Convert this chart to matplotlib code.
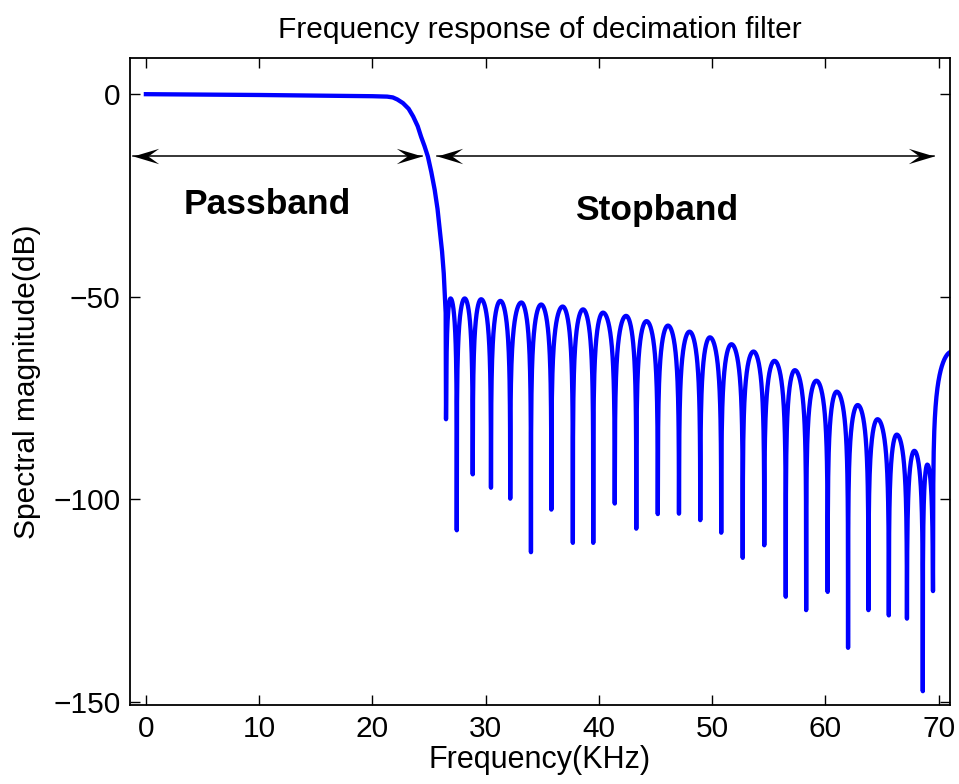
import numpy as np
import matplotlib
matplotlib.use("Agg")
import matplotlib.pyplot as plt
from matplotlib.path import Path

plt.rcParams['font.family'] = ['Liberation Sans', 'DejaVu Sans']

# passband + transition (KHz, dB)
pass_f = [0, 5, 10, 15, 20, 21.3, 21.8, 22.2, 22.7, 23.2, 23.6, 24.0, 24.3, 24.6,
          24.9, 25.2, 25.5, 25.75, 25.95, 26.15, 26.3, 26.47]
pass_db = [0, -0.1, -0.2, -0.35, -0.5, -0.6, -0.8, -1.3, -2.2, -3.6, -5.5, -7.9,
           -10.5, -12.8, -15.4, -19.2, -23.6, -28.3, -33.5, -38.8, -44.2, -54]

# stopband nulls
null_f = [26.5, 27.45, 28.86, 30.47, 32.17, 34.0, 35.8, 37.7, 39.5, 41.4, 43.3,
          45.2, 47.07, 48.95, 50.8, 52.7, 54.6, 56.5, 58.3, 60.2, 62.0, 63.8,
          65.6, 67.2, 68.6, 69.5]
null_db = [-80.2, -107.6, -93.8, -97.1, -99.8, -113.0, -102.5, -110.7, -110.7,
           -101.0, -107.2, -103.6, -103.5, -105.1, -108.2, -114.4, -111.3, -124.0,
           -127.3, -122.8, -136.6, -127.3, -128.6, -129.4, -147.3, -122.6]

# sidelobe peaks between nulls
peak_f = [26.9, 28.15, 29.6, 31.3, 33.15, 34.9, 36.8, 38.6, 40.36, 42.4, 44.2,
          46.1, 48.0, 49.8, 51.7, 53.65, 55.5, 57.3, 59.2, 61.0, 62.85, 64.6,
          66.3, 67.85, 69.0]
peak_db = [-50.4, -50.4, -50.6, -51.0, -51.4, -51.9, -52.4, -53.1, -53.9, -54.7,
           -56.0, -57.1, -58.6, -60.0, -61.7, -63.5, -65.8, -68.1, -70.7, -73.4,
           -76.7, -80.2, -84.0, -88.0, -91.4]

# last rising piece up to the plot edge
end_f = 71.0
end_db = -64.0


def lobe(f0, f1, fp, d0, d1, p, n=120, t_end=1.0):
    # arch between two nulls, |sin| shape in dB
    f = np.linspace(f0, f0 + (f1 - f0) * t_end, n)
    t = np.where(f <= fp, 0.5 * (f - f0) / (fp - f0), 0.5 + 0.5 * (f - fp) / (f1 - fp))
    e0 = 10 ** ((d0 - p) / 20)
    e1 = 10 ** ((d1 - p) / 20)
    eps = e0 * (1 - t) + e1 * t
    a = np.sqrt(np.sin(np.pi * t) ** 2 + eps ** 2)
    return f, p + 20 * np.log10(a)


xs = list(pass_f)
ys = list(pass_db)
for i in range(len(peak_f)):
    f, d = lobe(null_f[i], null_f[i + 1], peak_f[i], null_db[i], null_db[i + 1], peak_db[i])
    xs += list(f)
    ys += list(d)
# final half lobe
f, d = lobe(null_f[-1], 72.9, 71.2, null_db[-1], -120, end_db + 0.5,
            t_end=(end_f - null_f[-1]) / (72.9 - null_f[-1]))
xs += list(f)
ys += list(d)

fig = plt.figure(figsize=(9.59, 7.84), dpi=100)
ax = fig.add_axes([0.1356, 0.1008, 0.855, 0.8256])
ax.plot(xs, ys, color=(0, 0, 1), lw=3.1)

ax.set_xlim(-1.4, 71)
ax.set_ylim(-150.7, 9)
ax.set_xticks(np.arange(0, 71, 10))
ax.set_yticks([-150, -100, -50, 0])
ax.set_yticklabels(['\u2212150', '\u2212100', '\u221250', '0'])
ax.tick_params(direction='in', length=7, width=1, top=True, right=True, labelsize=21.5, pad=7)
for s in ax.spines.values():
    s.set_linewidth(1.3)

ax.set_xlabel('Frequency(KHz)', fontsize=22, labelpad=2)
ax.set_ylabel('Spectral magnitude(dB)', fontsize=21.5, labelpad=9)
ax.set_title('Frequency response of decimation filter', fontsize=21.5, pad=14)

# matlab style arrow heads (swept back)
head_r = Path([(0, 0), (-1, 0.3), (-0.58, 0), (-1, -0.3), (0, 0)],
              [Path.MOVETO, Path.LINETO, Path.LINETO, Path.LINETO, Path.CLOSEPOLY])
head_l = Path([(0, 0), (1, 0.3), (0.58, 0), (1, -0.3), (0, 0)],
              [Path.MOVETO, Path.LINETO, Path.LINETO, Path.LINETO, Path.CLOSEPOLY])
arrow_y = -15.2
for x0, x1 in [(-1.15, 24.4), (25.7, 69.6)]:
    ax.plot([x0, x1], [arrow_y, arrow_y], color='black', lw=1.1)
    ax.plot([x0], [arrow_y], marker=head_l, ms=37, color='black', mew=0)
    ax.plot([x1], [arrow_y], marker=head_r, ms=37, color='black', mew=0)

ax.text(10.7, -27.3, 'Passband', fontsize=25.5, fontweight='bold', ha='center', va='center')
ax.text(45.1, -28.6, 'Stopband', fontsize=25.5, fontweight='bold', ha='center', va='center')

fig.savefig('out.png', dpi=100)
